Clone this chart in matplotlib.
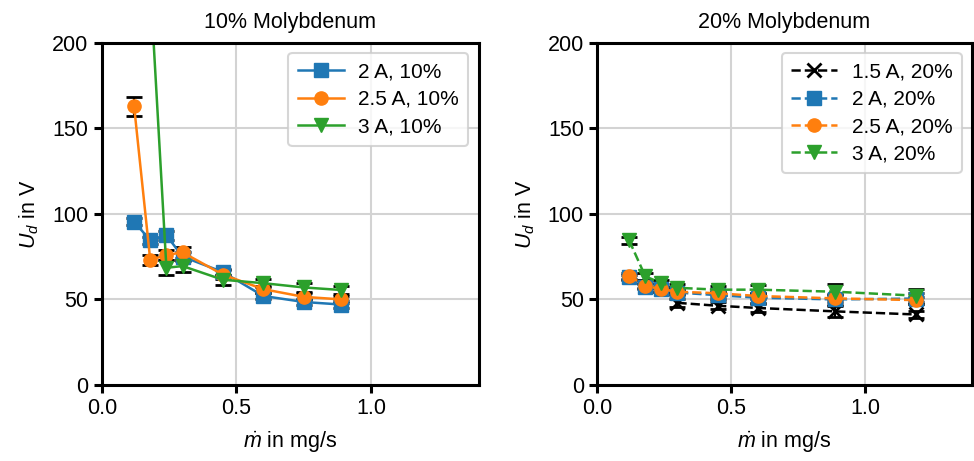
import matplotlib
matplotlib.use("Agg")
import matplotlib.pyplot as plt

plt.rcParams["font.family"] = ["Liberation Sans", "DejaVu Sans"]
plt.rcParams["mathtext.fontset"] = "custom"
plt.rcParams["mathtext.rm"] = "Liberation Sans"
plt.rcParams["mathtext.it"] = "Liberation Sans:italic"
FS = 15.5

# 10 % molybdenum
x10 = [0.12, 0.18, 0.24, 0.30, 0.45, 0.60, 0.75, 0.89]
u_2A_10 = [95.5, 84.5, 87.5, 75.0, 66.0, 52.0, 48.5, 47.0]
e_2A_10 = [2.0, 2.0, 2.5, 2.5, 2.0, 2.0, 2.0, 2.0]
u_25A_10 = [163.0, 73.0, 76.0, 77.5, 64.5, 56.0, 51.5, 50.0]
e_25A_10 = [5.5, 3.0, 3.0, 3.0, 2.5, 2.0, 2.0, 2.0]
x3_10 = [0.18, 0.24, 0.30, 0.45, 0.60, 0.75, 0.89]
u_3A_10 = [235.0, 68.5, 69.5, 61.5, 59.5, 57.0, 55.5]
e_3A_10 = [5.0, 4.5, 3.5, 3.0, 2.5, 2.5, 2.5]

# 20 % molybdenum
x20 = [0.12, 0.18, 0.24, 0.30, 0.45, 0.60, 0.89, 1.19]
x15_20 = [0.30, 0.45, 0.60, 0.89, 1.19]
u_15A_20 = [48.0, 46.3, 45.0, 43.0, 41.2]
e_15A_20 = [2.5, 2.0, 2.5, 3.0, 2.0]
u_2A_20 = [63.0, 57.5, 56.0, 54.0, 52.5, 51.0, 50.0, 50.5]
e_2A_20 = [1.5, 1.5, 1.5, 1.5, 2.0, 3.0, 3.0, 3.0]
u_25A_20 = [63.7, 58.0, 56.0, 54.5, 53.6, 52.0, 50.6, 49.6]
e_25A_20 = [1.5, 1.5, 1.5, 1.5, 1.5, 1.5, 2.0, 2.0]
u_3A_20 = [84.5, 63.5, 59.5, 56.8, 55.7, 55.7, 54.5, 52.2]
e_3A_20 = [2.0, 2.0, 2.0, 2.0, 2.0, 2.5, 4.5, 4.0]

C_BLUE, C_ORANGE, C_GREEN = "#1f77b4", "#ff7f0e", "#2ca02c"

fig = plt.figure(figsize=(9.74, 4.61), dpi=100)
ax1 = fig.add_axes([0.1045, 0.165, 0.387, 0.742])
ax2 = fig.add_axes([0.613, 0.165, 0.385, 0.742])

ebkw = dict(ecolor="k", elinewidth=1.5, capsize=6, capthick=2, lw=1.8, ms=9.5)

h1 = [
    ax1.errorbar(x10, u_2A_10, yerr=e_2A_10, color=C_BLUE, marker="s", label="2 A, 10%", **ebkw),
    ax1.errorbar(x10, u_25A_10, yerr=e_25A_10, color=C_ORANGE, marker="o", label="2.5 A, 10%", **ebkw),
    ax1.errorbar(x3_10, u_3A_10, yerr=e_3A_10, color=C_GREEN, marker="v", label="3 A, 10%", **ebkw),
]
ax1.set_title("10% Molybdenum", fontsize=FS, pad=11)

h2 = [
    ax2.errorbar(x15_20, u_15A_20, yerr=e_15A_20, color="k", marker="x", ls="--", mew=2, label="1.5 A, 20%", **ebkw),
    ax2.errorbar(x20, u_2A_20, yerr=e_2A_20, color=C_BLUE, marker="s", ls="--", label="2 A, 20%", **ebkw),
    ax2.errorbar(x20, u_25A_20, yerr=e_25A_20, color=C_ORANGE, marker="o", ls="--", label="2.5 A, 20%", **ebkw),
    ax2.errorbar(x20, u_3A_20, yerr=e_3A_20, color=C_GREEN, marker="v", ls="--", label="3 A, 20%", **ebkw),
]
ax2.set_title("20% Molybdenum", fontsize=FS, pad=11)

for ax, conts in ((ax1, h1), (ax2, h2)):
    ax.set_xlim(0, 1.4)
    ax.set_ylim(0, 200)
    ax.set_xticks([0.0, 0.5, 1.0])
    ax.set_yticks([0, 50, 100, 150, 200])
    ax.set_xlabel(r"$\dot{m}$ in mg/s", fontsize=FS, labelpad=8)
    ax.set_ylabel(r"$U_d$ in V", fontsize=FS, labelpad=8)
    ax.grid(True, color="#d3d3d3", lw=1.5)
    ax.set_axisbelow(True)
    for s in ax.spines.values():
        s.set_linewidth(2.2)
    ax.tick_params(width=2.2, length=6, labelsize=FS)
    lines = [c[0] for c in conts]
    leg = ax.legend(lines, [l.get_label() for l in conts], loc="upper right",
                    fontsize=15, handlelength=2.2, borderpad=0.45, labelspacing=0.4,
                    handletextpad=0.7)
    leg.get_frame().set_linewidth(1.5)

fig.savefig("out.png", dpi=100)
